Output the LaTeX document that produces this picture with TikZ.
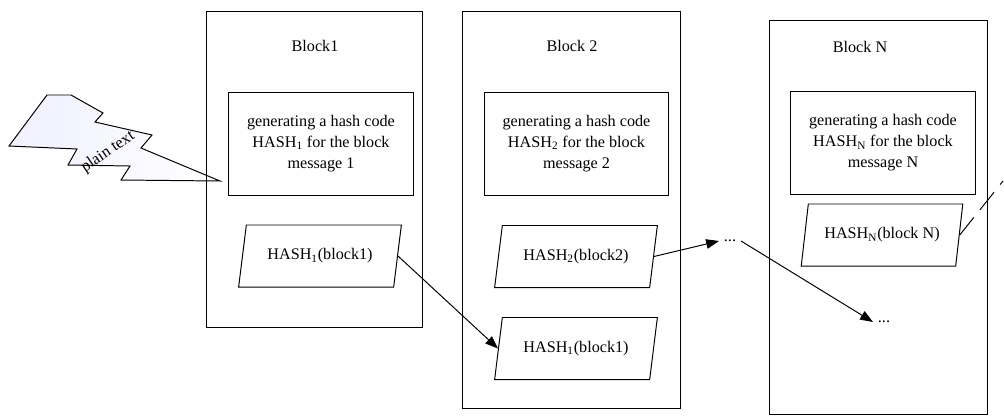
\documentclass[tikz,border=0pt]{standalone}
\usepackage{fontspec}
\setmainfont{Liberation Serif}
\usetikzlibrary{shapes.geometric,arrows.meta}

\begin{document}
\begin{tikzpicture}[x=0.025cm, y=-0.025cm,
    every node/.style={font=\fontsize{11.5}{15}\selectfont},
    blockbox/.style={draw, line width=0.7pt},
    genbox/.style={draw, line width=0.7pt, minimum width=4.6cm, minimum height=2.575cm, align=center, inner sep=0pt},
    hashbox/.style={draw, line width=0.7pt, trapezium, trapezium left angle=76, trapezium right angle=104,
                    trapezium stretches=true, minimum width=4.075cm, minimum height=1.55cm},
    flow/.style={-{Triangle[length=0.32cm, width=0.24cm]}, line width=0.7pt}]
  \useasboundingbox (0,0) rectangle (1004,416);

  \draw[line width=0.7pt, left color=blue!6, right color=white]
        (9,146) -- (47,95) -- (71,95) -- (103,113) -- (95,122) -- (152,135) -- (141,148)
        -- (220,181) -- (121,180) -- (130,166) -- (68,165) -- (77,149) -- cycle;
  \node[rotate=34] (plain) at (108,152) {plain text};

  \node[blockbox, minimum width=5.375cm, minimum height=7.875cm] (blk1) at (314.5,169.5) {};
  \node[blockbox, minimum width=5.425cm, minimum height=9.9cm] (blk2) at (571.5,210) {};
  \node[blockbox, minimum width=5.425cm, minimum height=9.825cm] (blkN) at (878.5,217.5) {};

  \node (lbl1) at (315,46) {Block1};
  \node (lbl2) at (572,46) {Block 2};
  \node (lblN) at (860,46.5) {Block N};

  \node[genbox] (gen1) at (321,143.5) {generating a hash code\\HASH\textsubscript{1} for the block\\message 1};
  \node[genbox] (gen2) at (576.5,143.5) {generating a hash code\\HASH\textsubscript{2} for the block\\message 2};
  \node[genbox] (genN) at (883,143) {generating a hash code\\HASH\textsubscript{N} for the block\\message N};

  \node[hashbox] (h1) at (320,256) {HASH\textsubscript{1}(block1)};
  \node[hashbox] (h2) at (576,256.5) {HASH\textsubscript{2}(block2)};
  \node[hashbox] (h1b) at (576,348.5) {HASH\textsubscript{1}(block1)};
  \node[hashbox] (hN) at (882,235) {HASH\textsubscript{N}(block N)};

  \node (dotsA) at (730,241) {...};
  \node (dotsB) at (884,322) {...};
  \coordinate (outN) at (1003,181);

  \draw[flow] (h1.east) -- (h1b.west);
  \draw[flow] (h2.east) -- (dotsA.west);
  \draw[flow] (dotsA.east) -- (dotsB.west);
  \draw[line width=0.7pt, dash pattern=on 16pt off 7pt] (hN.east) -- (outN);
\end{tikzpicture}
\end{document}
